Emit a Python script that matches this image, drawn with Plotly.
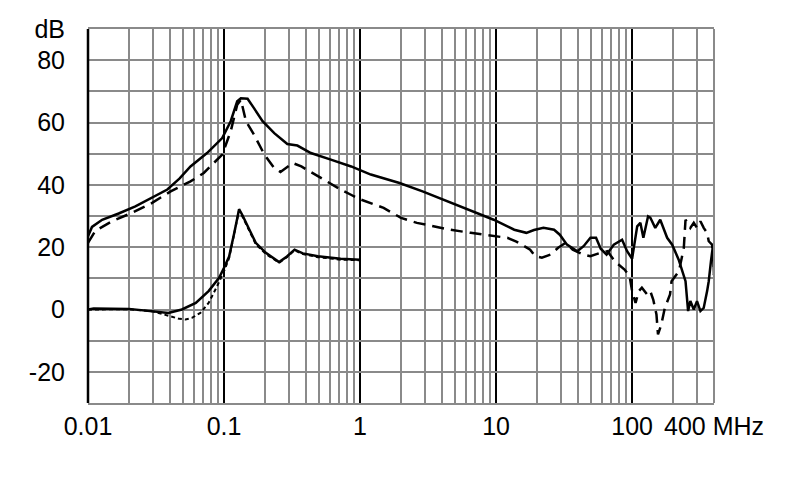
import plotly.graph_objects as go

# ---------------- data ----------------
f_upper_solid = [0.01, 0.0107, 0.0127, 0.0168, 0.0223, 0.0296, 0.0383, 0.047, 0.0567, 0.075, 0.097,
                 0.112, 0.125, 0.133, 0.149, 0.166, 0.192, 0.234, 0.292, 0.346, 0.435, 0.61, 0.86,
                 1.2, 1.95, 2.88, 5.1, 9.6, 13.6, 16.7, 19, 22.3, 26.7, 29.4, 33.2, 39.6, 44, 49.4,
                 54.3, 58.8, 64.9, 73.3, 84.4, 91.9, 100, 109, 115, 121, 131, 136, 148, 161, 181,
                 197, 220, 247, 258, 268, 284, 300, 318, 336, 356, 366, 380, 394, 400]
db_upper_solid = [23.5, 26.5, 28.8, 30.8, 33.1, 35.8, 38.5, 42, 45.9, 50.2, 55,
                  60.4, 66.8, 67.8, 67.6, 64.6, 60.4, 56.6, 53.1, 52.6, 50.2, 48.1, 45.9,
                  43.3, 40.6, 37.9, 33.7, 28.8, 25.6, 24.6, 25.5, 26.2, 25.6, 24, 20.8, 18.7, 20.3, 23,
                  23, 19.5, 17.6, 20.8, 22.4, 18.7, 16.3, 26.7, 27.8, 23, 29.9, 29.5, 26.2, 28.8, 23,
                  20.8, 16, 9.1, -0.5, 2.7, 0, 2.7, -0.5, 0.5, 5.9, 9.1, 15.5, 20.8, 11]

f_upper_dashed = [0.01, 0.0113, 0.015, 0.021, 0.0296, 0.0405, 0.0567, 0.071, 0.097, 0.112, 0.125,
                  0.133, 0.145, 0.166, 0.198, 0.234, 0.26, 0.29, 0.32, 0.37, 0.49, 0.72, 0.85,
                  1.01, 1.49, 2.0, 2.62, 3.5, 4.6, 6.5, 9.6, 12.1, 14.1, 16.0, 17.8, 19.4, 21.7,
                  25.1, 28.6, 32.5, 36.6, 44, 49.3, 58.8, 66, 74.4, 84, 88, 95.8, 100, 106, 112,
                  118, 129, 136, 143, 151, 155, 164, 174, 190, 195, 221, 240, 247, 268, 284, 300,
                  318, 336, 356, 366, 387, 398, 400]
db_upper_dashed = [21.4, 25.2, 28.3, 31, 34.2, 37.9, 41.1, 43.8, 49.7, 57.2, 65.7,
                   67.3, 60.4, 56.1, 49.7, 45.4, 44.1, 45.5, 47, 45.9, 42.7, 38.5, 36.9,
                   35.3, 32.6, 29.4, 27.8, 26.7, 25.6, 24.6, 23.5, 23, 21.8, 20.3, 19.2, 17.1, 16.6,
                   17.6, 19.8, 21.4, 19.2, 17.6, 17.1, 18.2, 18.7, 15.5, 13.5, 12.8, 10.7, 5.9, 2.1, 5.9,
                   7, 4.8, 5.9, 3.2, -1.6, -8, -4.8, 0.5, 4.8, 9.1, 12.3, 19.8, 28.8, 26.2, 27.8, 26.2,
                   28.3, 26.2, 24.6, 21.9, 20.8, 15.5, 11.2]

f_lower_solid = [0.01, 0.011, 0.02, 0.03, 0.039, 0.049, 0.062, 0.077, 0.092, 0.1, 0.109, 0.119,
                 0.129, 0.136, 0.149, 0.171, 0.203, 0.254, 0.29, 0.33, 0.38, 0.49, 0.72, 1.0]
db_lower_solid = [0, 0.3, 0.2, -0.5, -1.1, 0, 2.1, 5.9, 10.2, 13.4, 17, 24.6,
                  32.2, 30.4, 26.7, 21.4, 18.2, 15.2, 17, 19.2, 18, 17.1, 16.3, 16]

f_lower_dotted = [0.01, 0.02, 0.03, 0.039, 0.047, 0.052, 0.058, 0.067, 0.077, 0.089, 0.1, 0.109,
                  0.119, 0.129, 0.136, 0.149, 0.171, 0.203, 0.254, 0.29, 0.33, 0.38, 0.49, 0.72, 1.0]
db_lower_dotted = [0, 0.1, -0.6, -1.9, -3, -3.2, -2.7, -1.1, 2.1, 7.5, 12.3, 16.5,
                   24.3, 31.8, 30, 26.3, 21, 17.8, 15, 16.8, 19, 17.8, 16.8, 16, 15.8]

x_ticks = [0.01, 0.1, 1, 10, 100, 400]
x_ticktext = ["0.01", "0.1", "1", "10", "100", "400 MHz"]
x_minor = [m * d for d in [0.01, 0.1, 1, 10] for m in range(2, 10)] + [200, 300]
y_ticks = list(range(-30, 91, 10))
y_labels = {-20: "-20", 0: "0", 20: "20", 40: "40", 60: "60", 80: "80", 90: "dB"}
y_ticktext = [y_labels.get(v, "") for v in y_ticks]

# ---------------- figure ----------------
BLACK = "#000000"
GRID = "#8a8a8a"
LW = 2.5

fig = go.Figure()
fig.add_trace(go.Scatter(x=f_upper_solid, y=db_upper_solid, mode="lines",
                         line=dict(color=BLACK, width=LW)))
fig.add_trace(go.Scatter(x=f_upper_dashed, y=db_upper_dashed, mode="lines",
                         line=dict(color=BLACK, width=LW, dash="12px,7px")))
fig.add_trace(go.Scatter(x=f_lower_dotted, y=db_lower_dotted, mode="lines",
                         line=dict(color=BLACK, width=2, dash="4px,3px")))
fig.add_trace(go.Scatter(x=f_lower_solid, y=db_lower_solid, mode="lines",
                         line=dict(color=BLACK, width=LW)))

font = dict(family="Liberation Sans, Arial, sans-serif", size=25, color=BLACK)

fig.update_layout(
    width=782, height=491,
    margin=dict(l=80, r=76, t=21, b=96),
    paper_bgcolor="white", plot_bgcolor="white",
    showlegend=False,
    font=font,
    xaxis=dict(type="log", range=[-2, 2.60206], tickvals=x_ticks, ticktext=x_ticktext,
               showgrid=True, gridcolor=BLACK, gridwidth=2,
               minor=dict(tickvals=x_minor, showgrid=True, gridcolor=GRID, gridwidth=1.6, ticks=""),
               showline=True, linecolor=GRID, linewidth=2, mirror=True,
               ticks="", ticklabelstandoff=0, zeroline=False, tickfont=font, automargin=False),
    yaxis=dict(range=[-30, 90], tickvals=y_ticks, ticktext=y_ticktext,
               showgrid=True, gridcolor=GRID, gridwidth=1.6, zeroline=False,
               showline=False, ticks="", ticklabelstandoff=22, tickfont=font, automargin=False),
    shapes=[
        dict(type="line", xref="paper", yref="paper", x0=0, x1=0, y0=0, y1=1,
             line=dict(color=BLACK, width=2.5), layer="above"),
        dict(type="line", xref="paper", yref="paper", x0=1, x1=1, y0=0, y1=1,
             line=dict(color=GRID, width=2), layer="above"),
    ],
)

fig.write_html("out.html")
